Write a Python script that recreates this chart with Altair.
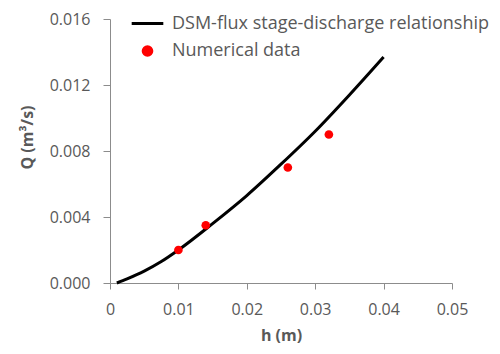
import altair as alt
import pandas as pd

# DSM-flux stage-discharge relationship
line_h = [0.001, 0.0025, 0.005, 0.0075, 0.010, 0.015, 0.020, 0.025, 0.030, 0.035, 0.040]
line_q = [0.0000, 0.00025, 0.00072, 0.0013, 0.0020, 0.0036, 0.0053, 0.0072, 0.0092, 0.0114, 0.0137]

# Numerical data points
pt_h = [0.010, 0.014, 0.026, 0.032]
pt_q = [0.0020, 0.0035, 0.0070, 0.0090]

series_names = ["DSM-flux stage-discharge relationship", "Numerical data"]

line_df = pd.DataFrame({"h": line_h, "Q": line_q, "series": series_names[0]})
pt_df = pd.DataFrame({"h": pt_h, "Q": pt_q, "series": series_names[1]})

FONT = "Open Sans"
GRAY = "#595959"

xscale = alt.Scale(domain=[0, 0.05], nice=False)
yscale = alt.Scale(domain=[0, 0.016], nice=False)

xaxis = alt.Axis(values=[0, 0.01, 0.02, 0.03, 0.04, 0.05],
                 labelExpr="datum.value == 0 ? '0' : format(datum.value, '.2f')",
                 title="h (m)", grid=False, tickSize=6, labelPadding=12,
                 titlePadding=10, labelFlush=False)
yaxis = alt.Axis(values=[0, 0.004, 0.008, 0.012, 0.016], format=".3f",
                 title="Q (m³/s)", grid=False, tickSize=7, labelPadding=13,
                 titlePadding=14, titleY=118, labelFlush=False)

color_scale = alt.Scale(domain=series_names, range=["#000000", "#ff0000"])
shape_scale = alt.Scale(domain=series_names, range=["stroke", "circle"])
size_scale = alt.Scale(domain=series_names, range=[1000, 75])

legend = alt.Legend(
    title=None, orient="none", legendX=20, legendY=-13,
    symbolStrokeWidth=3, labelFontSize=18, labelLimit=400,
    rowPadding=7, labelOffset=7,
)

line = alt.Chart(line_df).mark_line(strokeWidth=3, interpolate="monotone").encode(
    x=alt.X("h:Q", scale=xscale, axis=xaxis),
    y=alt.Y("Q:Q", scale=yscale, axis=yaxis),
    color=alt.Color("series:N", scale=color_scale, legend=legend),
)

points = alt.Chart(pt_df).mark_point(filled=True, opacity=1).encode(
    x=alt.X("h:Q", scale=xscale),
    y=alt.Y("Q:Q", scale=yscale),
    color=alt.Color("series:N", scale=color_scale, legend=legend),
    shape=alt.Shape("series:N", scale=shape_scale, legend=legend),
    size=alt.Size("series:N", scale=size_scale, legend=legend),
)

chart = alt.layer(line, points).properties(
    width=342, height=264,
    autosize=alt.AutoSizeParams(type="none"),
    padding={"left": 102, "top": 11, "right": 40, "bottom": 63},
).configure_view(stroke=None).configure_axis(
    domainColor="#8c8c8c", tickColor="#8c8c8c",
    labelColor=GRAY, titleColor=GRAY, labelFont=FONT, titleFont=FONT,
    labelFontSize=16, titleFontSize=16, titleFontWeight="bold",
).configure_legend(labelFont=FONT, labelColor=GRAY)

chart.save("out.html", embed_options={"renderer": "svg", "actions": False})
